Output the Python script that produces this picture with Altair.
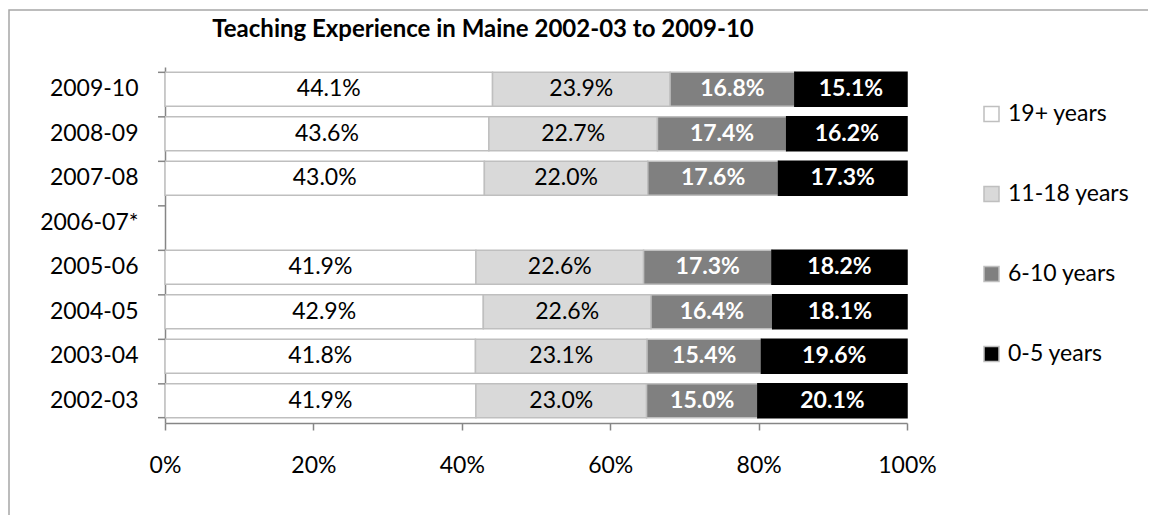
import altair as alt
import pandas as pd

years = ["2009-10", "2008-09", "2007-08", "2006-07*", "2005-06", "2004-05", "2003-04", "2002-03"]
groups = ["19+ years", "11-18 years", "6-10 years", "0-5 years"]
v19 = [44.1, 43.6, 43.0, None, 41.9, 42.9, 41.8, 41.9]
v11 = [23.9, 22.7, 22.0, None, 22.6, 22.6, 23.1, 23.0]
v6 = [16.8, 17.4, 17.6, None, 17.3, 16.4, 15.4, 15.0]
v0 = [15.1, 16.2, 17.3, None, 18.2, 18.1, 19.6, 20.1]
colors = ["#ffffff", "#d9d9d9", "#808080", "#000000"]
x_ticks = [0, 0.2, 0.4, 0.6, 0.8, 1.0]

rows = []
for gi, (g, vals) in enumerate(zip(groups, [v19, v11, v6, v0])):
    for y, v in zip(years, vals):
        if v is not None:
            rows.append({"year": y, "group": g, "order": gi, "value": v})
df = pd.DataFrame(rows)
ydf = pd.DataFrame({"year": years})
FONT = "Lato"
FS = 23

yscale = alt.Scale(domain=years, paddingInner=0.24, paddingOuter=0.12)
xscale = alt.Scale(domain=[0, 1], nice=False)

base = alt.Chart(df).transform_stack(
    stack="value", groupby=["year"], as_=["x0", "x1"], offset="normalize",
    sort=[alt.SortField("order", order="ascending")]
).transform_calculate(
    mid="(datum.x0 + datum.x1) / 2",
    label="format(datum.value, '.1f') + '%'"
)

bars = base.mark_bar(strokeWidth=1.5).encode(
    y=alt.Y("year:N", scale=yscale, title=None,
            axis=alt.Axis(ticks=False, domainColor="#868686", domainWidth=1.5,
                          labelPadding=27, labelFont=FONT, labelFontSize=FS,
                          labelColor="#000000")),
    x=alt.X("x0:Q", scale=xscale, title=None,
            axis=alt.Axis(values=x_ticks, format=".0%", grid=False, labelFlush=False,
                          domainColor="#868686", domainWidth=1.5,
                          tickColor="#868686", tickWidth=1.5, tickSize=7,
                          labelPadding=24, labelFont=FONT, labelFontSize=FS,
                          labelColor="#000000")),
    x2="x1:Q",
    color=alt.Color("group:N", scale=alt.Scale(domain=groups, range=colors), title=None,
                    legend=alt.Legend(orient="none", legendX=815, legendY=35.5,
                                      symbolType="square", symbolSize=225,
                                      symbolStrokeColor="#bfbfbf", symbolStrokeWidth=1.5,
                                      labelFont=FONT, labelFontSize=FS, labelColor="#000000",
                                      rowPadding=56, labelOffset=5)),
    stroke=alt.condition("datum.group == '0-5 years'", alt.value("#000000"), alt.value("#bfbfbf")),
)

light = base.transform_filter("datum.order < 2").mark_text(
    font=FONT, fontSize=FS, color="#000000"
).encode(y=alt.Y("year:N", scale=yscale), x=alt.X("mid:Q", scale=xscale), text="label:N")

dark = base.transform_filter("datum.order >= 2").mark_text(
    font=FONT, fontSize=FS, fontWeight="bold", color="#ffffff"
).encode(y=alt.Y("year:N", scale=yscale), x=alt.X("mid:Q", scale=xscale), text="label:N")

yticks = alt.Chart(ydf).mark_rule(color="#868686", strokeWidth=1.5).encode(
    y=alt.Y("year:N", scale=yscale, bandPosition=0),
    x=alt.value(-7), x2=alt.value(0))
ytick_last = alt.Chart(ydf).transform_filter("datum.year == '2002-03'").mark_rule(
    color="#868686", strokeWidth=1.5).encode(
    y=alt.Y("year:N", scale=yscale, bandPosition=1),
    x=alt.value(-7), x2=alt.value(0))

frame = alt.Chart(pd.DataFrame({"f": [0]})).mark_rect(
    fill="transparent", stroke="#a6a6a6", strokeWidth=1.5
).encode(x=alt.value(-156), x2=alt.value(1300), y=alt.value(-57), y2=alt.value(700))

chart = alt.layer(frame, bars, light, dark, yticks, ytick_last).properties(
    width=742, height=356,
    padding={"left": 157, "top": 59, "right": 241, "bottom": 92},
    autosize=alt.AutoSizeParams(type="none"),
    title=alt.TitleParams("Teaching Experience in Maine 2002-03 to 2009-10",
                          font=FONT, fontSize=24, fontWeight="bold", color="#000000",
                          anchor="middle", dx=-53, offset=-52, baseline="alphabetic"),
).configure_view(stroke=None)

chart.save("out.html", embed_options={"renderer": "svg", "actions": False})
